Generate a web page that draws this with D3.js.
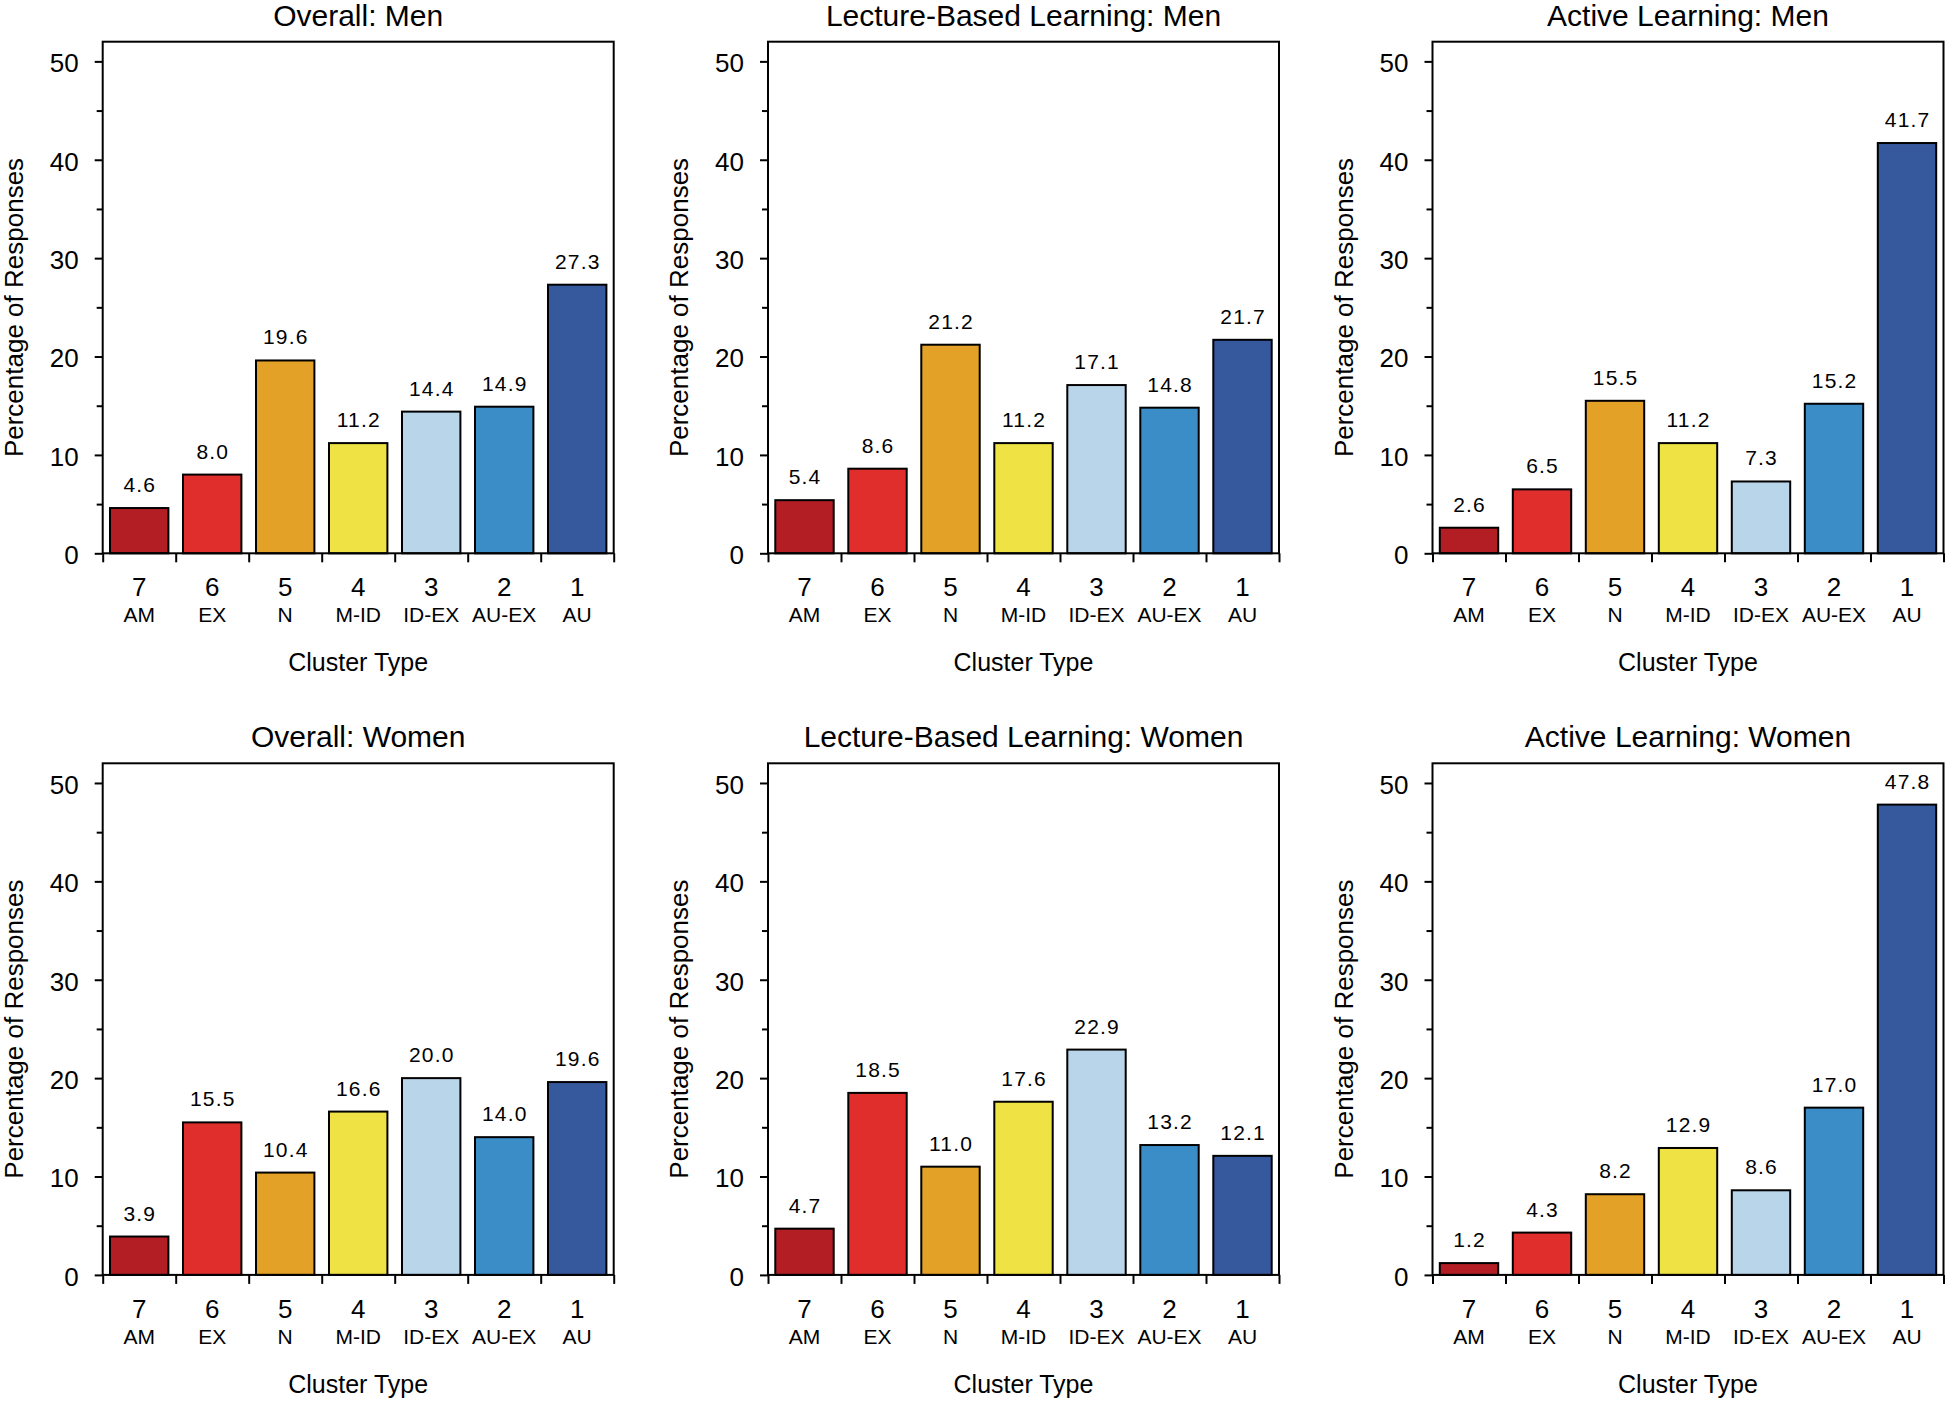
<!DOCTYPE html>
<html>
<head>
<meta charset="utf-8">
<script src="https://cdn.jsdelivr.net/npm/d3@7"></script>
<style>
  html, body { margin: 0; padding: 0; background: #fff; }
  svg { display: block; }
  text { font-family: "Liberation Sans", Arial, Helvetica, sans-serif; fill: #000; }
</style>
</head>
<body>
<svg id="chart" width="1946" height="1401"></svg>
<script>
// ---- data ----
const clusterNums = ["7", "6", "5", "4", "3", "2", "1"];
const clusterCodes = ["AM", "EX", "N", "M-ID", "ID-EX", "AU-EX", "AU"];
const clusterColors = ["#b31e25", "#df2e2c", "#e4a127", "#efe244", "#b9d5ea", "#3a8dc6", "#36589d"];

const titles = [
  "Overall: Men", "Lecture-Based Learning: Men", "Active Learning: Men",
  "Overall: Women", "Lecture-Based Learning: Women", "Active Learning: Women"
];
const overallMen      = [4.6, 8.0, 19.6, 11.2, 14.4, 14.9, 27.3];
const lectureMen      = [5.4, 8.6, 21.2, 11.2, 17.1, 14.8, 21.7];
const activeMen       = [2.6, 6.5, 15.5, 11.2, 7.3, 15.2, 41.7];
const overallWomen    = [3.9, 15.5, 10.4, 16.6, 20.0, 14.0, 19.6];
const lectureWomen    = [4.7, 18.5, 11.0, 17.6, 22.9, 13.2, 12.1];
const activeWomen     = [1.2, 4.3, 8.2, 12.9, 8.6, 17.0, 47.8];
const panelValues = [overallMen, lectureMen, activeMen, overallWomen, lectureWomen, activeWomen];

const yMajorTicks = [0, 10, 20, 30, 40, 50];
const yMinorTicks = [5, 15, 25, 35, 45];
const yMax = 52;
const yLabel = "Percentage of Responses";
const xLabel = "Cluster Type";

// ---- layout ----
const panelLefts = [102.7, 768, 1432.5];
const panelTops = [41.7, 763.3];
const pw = 511, ph = 511.6;

const svg = d3.select("#chart");

panelValues.forEach((vals, i) => {
  const col = i % 3, row = Math.floor(i / 3);
  const g = svg.append("g").attr("transform", `translate(${panelLefts[col]},${panelTops[row]})`);

  const x = d3.scaleBand().domain(d3.range(7)).range([0, pw]).paddingInner(0.2).paddingOuter(0.1);
  const xEdge = d3.scaleLinear().domain([0, 7]).range([0, pw]);
  const y = d3.scaleLinear().domain([0, yMax]).range([ph, 0]);

  // bars
  g.selectAll("rect.bar").data(vals).join("rect")
    .attr("class", "bar")
    .attr("x", (d, k) => x(k))
    .attr("width", x.bandwidth())
    .attr("y", d => y(d))
    .attr("height", d => y(0) - y(d))
    .attr("fill", (d, k) => clusterColors[k])
    .attr("stroke", "#000")
    .attr("stroke-width", 2);

  // value labels
  g.selectAll("text.val").data(vals).join("text")
    .attr("class", "val")
    .attr("x", (d, k) => x(k) + x.bandwidth() / 2 + 0.6)
    .attr("y", d => y(d) - 16)
    .attr("text-anchor", "middle")
    .attr("font-size", 21)
    .attr("letter-spacing", 1.2)
    .text(d => d.toFixed(1));

  // box
  g.append("rect").attr("x", 0).attr("y", 0).attr("width", pw).attr("height", ph)
    .attr("fill", "none").attr("stroke", "#000").attr("stroke-width", 2);

  // y axis major
  const ya = g.append("g").call(d3.axisLeft(y).tickValues(yMajorTicks).tickSize(8).tickPadding(16).tickFormat(d3.format("d")));
  ya.select(".domain").remove();
  ya.selectAll("line").attr("stroke-width", 2);
  ya.selectAll("text").attr("font-size", 26).attr("font-family", "Liberation Sans, Arial, sans-serif").attr("dy", "0.40em");
  // y axis minor
  const ym = g.append("g").call(d3.axisLeft(y).tickValues(yMinorTicks).tickSize(6).tickFormat(""));
  ym.select(".domain").remove();
  ym.selectAll("line").attr("stroke-width", 2);

  // x axis edge ticks
  const xa = g.append("g").attr("transform", `translate(0,${ph})`)
    .call(d3.axisBottom(xEdge).tickValues(d3.range(8)).tickSize(9).tickFormat(""));
  xa.select(".domain").remove();
  xa.selectAll("line").attr("stroke-width", 2);

  // category labels
  g.selectAll("text.num").data(clusterNums).join("text")
    .attr("class", "num")
    .attr("x", (d, k) => x(k) + x.bandwidth() / 2)
    .attr("y", ph + 43)
    .attr("text-anchor", "middle").attr("font-size", 26)
    .text(d => d);
  g.selectAll("text.code").data(clusterCodes).join("text")
    .attr("class", "code")
    .attr("x", (d, k) => x(k) + x.bandwidth() / 2)
    .attr("y", ph + 69)
    .attr("text-anchor", "middle").attr("font-size", 21)
    .text(d => d);

  // axis titles
  g.append("text").attr("x", pw / 2).attr("y", ph + 118)
    .attr("text-anchor", "middle").attr("font-size", 25).text(xLabel);
  g.append("text")
    .attr("transform", `translate(-80,${ph / 2 + 10}) rotate(-90)`)
    .attr("text-anchor", "middle").attr("font-size", 26).text(yLabel);

  // title
  g.append("text").attr("x", pw / 2).attr("y", -16)
    .attr("text-anchor", "middle").attr("font-size", 30).text(titles[i]);
});
</script>
</body>
</html>
